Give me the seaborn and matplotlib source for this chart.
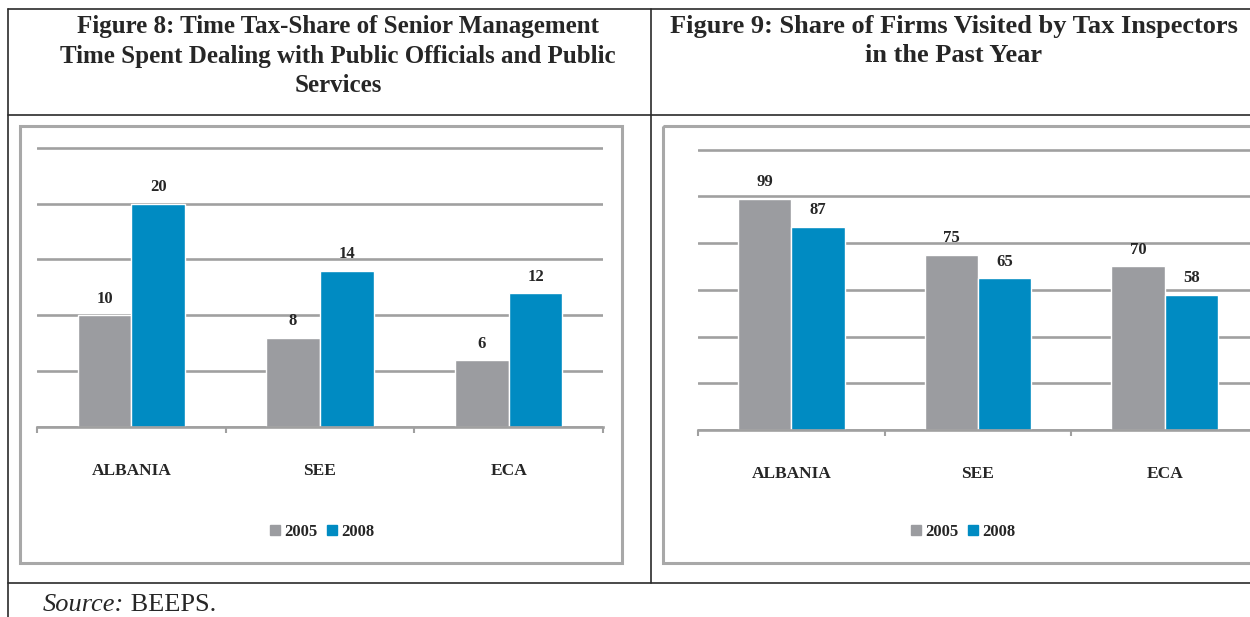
import matplotlib
matplotlib.use("Agg")
import matplotlib.pyplot as plt
import seaborn as sns
import pandas as pd
from matplotlib.patches import Rectangle, Patch

regions = ["ALBANIA", "SEE", "ECA"]
years = ["2005", "2008"]
fig8_2005 = [10, 8, 6]
fig8_2008 = [20, 14, 12]
fig9_2005 = [99, 75, 70]
fig9_2008 = [87, 65, 58]

title8 = ["Figure 8: Time Tax-Share of Senior Management",
          "Time Spent Dealing with Public Officials and Public",
          "Services"]
title9 = ["Figure 9: Share of Firms Visited by Tax Inspectors",
          "in the Past Year"]

palette = {"2005": "#9b9ca0", "2008": "#008bc2"}
grid_grey = "#a0a0a0"
W, H = 1250, 617

sns.set_theme(style="white")
plt.rcParams["font.family"] = ["Liberation Serif", "DejaVu Serif"]


def to_frame(v2005, v2008):
    return pd.DataFrame({
        "region": regions * 2,
        "year": [years[0]] * 3 + [years[1]] * 3,
        "value": v2005 + v2008,
    })


def px_axes(fig, x0, y0, x1, y1, **kw):
    # pixel box (top-left origin) -> figure fraction
    return fig.add_axes([x0 / W, 1 - y1 / H, (x1 - x0) / W, (y1 - y0) / H], **kw)


def bar_panel(ax, df, ymax, step):
    sns.barplot(data=df, x="region", y="value", hue="year", palette=palette,
                width=0.57, saturation=1, ax=ax, legend=False)
    for c in ax.containers:
        ax.bar_label(c, fmt="%d", padding=6, fontsize=12, fontweight="bold")
    ax.set_xlim(-0.5, 2.5)
    ax.set_ylim(0, ymax * 1.006)
    ax.set_yticks(range(0, ymax + 1, step))
    ax.set_yticklabels([])
    ax.tick_params(axis="y", length=0)
    ax.yaxis.grid(True, color=grid_grey, lw=1.9)
    ax.set_axisbelow(True)
    for s in ["left", "right", "top"]:
        ax.spines[s].set_visible(False)
    ax.spines["bottom"].set_color(grid_grey)
    ax.spines["bottom"].set_linewidth(1.9)
    ax.set_xticks([-0.5, 0.5, 1.5, 2.5], minor=True)
    ax.tick_params(axis="x", which="minor", bottom=True, direction="out",
                   length=4, width=1.5, color=grid_grey)
    ax.tick_params(axis="x", which="major", length=0, pad=26)
    for lab in ax.get_xticklabels():
        lab.set_fontweight("bold")
        lab.set_fontsize(12.5)
    ax.set_xlabel("")
    ax.set_ylabel("")
    ax.patch.set_alpha(0)


fig = plt.figure(figsize=(W / 100, H / 100), dpi=100)

# table and frames drawn in a full-figure pixel axes
bg = fig.add_axes([0, 0, 1, 1], zorder=-1)
bg.set_xlim(0, W)
bg.set_ylim(H, 0)
bg.axis("off")
line_kw = dict(color="#2b2b2b", lw=1.2)
bg.plot([8, W], [9, 9], **line_kw)
bg.plot([8, W], [115, 115], **line_kw)
bg.plot([8, W], [583, 583], **line_kw)
bg.plot([8, 8], [9, H], **line_kw)
bg.plot([651, 651], [9, 583], **line_kw)
bg.add_patch(Rectangle((20, 126), 602, 437, fill=False, ec="#a8a8a8", lw=2.2))
bg.add_patch(Rectangle((663, 126), 620, 437, fill=False, ec="#a8a8a8", lw=2.2))

for i, t in enumerate(title8):
    bg.text(338, 33 + 29.5 * i, t, ha="center", va="baseline",
            fontsize=18, fontweight="bold")
for i, t in enumerate(title9):
    bg.text(954, 33 + 29.5 * i, t, ha="center", va="baseline",
            fontsize=19, fontweight="bold")

src = bg.text(43, 611, "Source:", fontsize=19, style="italic", va="baseline")
bg.annotate(" BEEPS.", xycoords=src, xy=(1, 0), va="bottom", fontsize=19)

ax8 = px_axes(fig, 37, 146, 603, 427)
bar_panel(ax8, to_frame(fig8_2005, fig8_2008), 25, 5)

ax9 = px_axes(fig, 698, 148, 1258, 430)
bar_panel(ax9, to_frame(fig9_2005, fig9_2008), 120, 20)

handles = [Patch(color=palette[y], label=y) for y in years]
for cx in (322, 963):
    fig.legend(handles=handles, loc="center", bbox_to_anchor=(cx / W, 1 - 532 / H),
               ncol=2, frameon=False, handlelength=0.6, handleheight=0.6,
               handletextpad=0.25, columnspacing=0.6,
               prop={"weight": "bold", "size": 12})

fig.savefig("out.png", dpi=100)
